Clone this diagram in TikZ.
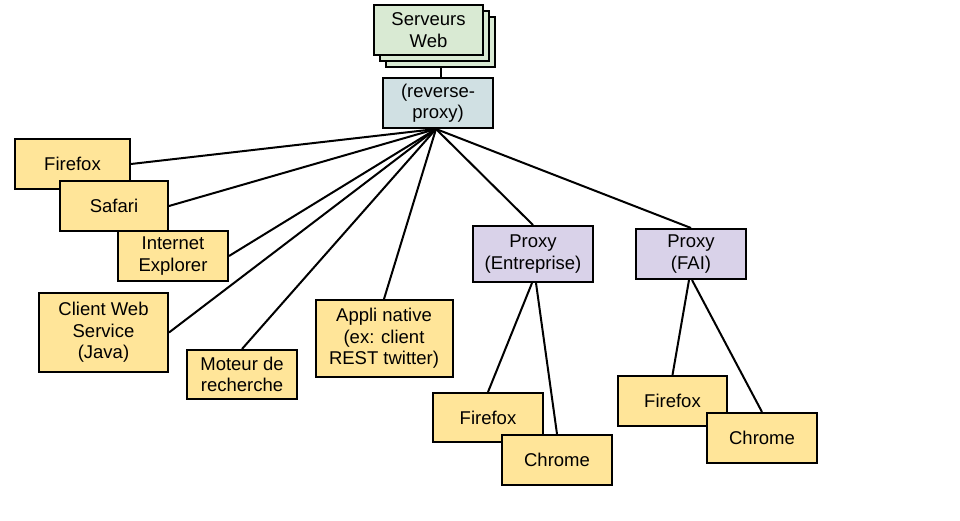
\documentclass[tikz,border=0pt]{standalone}
\usepackage{fontspec}
\setmainfont{Liberation Sans}
\usetikzlibrary{backgrounds}
\definecolor{cyel}{HTML}{FFE599}
\definecolor{cgrn}{HTML}{D9EAD3}
\definecolor{cblu}{HTML}{D0E0E3}
\definecolor{cpur}{HTML}{D9D2E9}
\begin{document}
\begin{tikzpicture}[x=1pt,y=-1pt,
  box/.style={draw=black,line width=2pt,inner sep=0pt,align=center,
    font=\fontsize{18.5}{21.5}\selectfont},
  ybox/.style={box,fill=cyel},
  conn/.style={draw=black,line width=2pt}]
\useasboundingbox (0,0) rectangle (960,521);
% serveurs web stack
\node[box,fill=cgrn,minimum width=109pt,minimum height=50pt] (sw3) at (440.5,42) {};
\node[box,fill=cgrn,minimum width=109pt,minimum height=50pt] (sw2) at (434.5,36) {};
\node[box,fill=cgrn,minimum width=109pt,minimum height=50pt] (sw) at (428.5,30) {Serveurs\\Web};
\node[box,fill=cblu,minimum width=110pt,minimum height=50pt] (rp) at (438,103) {(reverse-\\proxy)};
% clients
\node[ybox,minimum width=115pt,minimum height=50pt] (ff1) at (72.5,164) {Firefox};
\node[ybox,minimum width=108pt,minimum height=50pt] (saf) at (114,206) {Safari};
\node[ybox,minimum width=110pt,minimum height=50pt] (ie) at (173,256) {Internet\\Explorer};
\node[ybox,minimum width=129pt,minimum height=79pt] (cws) at (103.5,332.5) {Client Web\\Service\\(Java)};
\node[ybox,minimum width=110pt,minimum height=49pt] (mot) at (242,374.5) {Moteur de\\recherche};
\node[ybox,minimum width=137pt,minimum height=77pt] (app) at (384,338.5) {Appli native\\(ex: client\\REST twitter)};
\node[box,fill=cpur,minimum width=120pt,minimum height=56pt] (pe) at (533,254) {Proxy\\(Entreprise)};
\node[box,fill=cpur,minimum width=110pt,minimum height=50pt] (pf) at (691,254) {Proxy\\(FAI)};
\node[ybox,minimum width=110pt,minimum height=49pt] (ff2) at (488,417.5) {Firefox};
\node[ybox,minimum width=110pt,minimum height=50pt] (ch2) at (557,460) {Chrome};
\node[ybox,minimum width=109pt,minimum height=50pt] (ff3) at (672.5,401) {Firefox};
\node[ybox,minimum width=110pt,minimum height=50pt] (ch3) at (762,438) {Chrome};
\begin{scope}[on background layer]
\draw[conn] (sw3.south) -- (sw3.south |- rp.north);
\coordinate (hub) at ([xshift=-2pt]rp.south);
\draw[conn] (hub) -- (ff1.east);
\draw[conn] (hub) -- (saf.east);
\draw[conn] (hub) -- (ie.east);
\draw[conn] (hub) -- (cws.east);
\draw[conn] (hub) -- (mot.north);
\draw[conn] (hub) -- (app.north);
\draw[conn] (hub) -- (pe.north);
\draw[conn] (hub) -- (pf.north);
\draw[conn] ([xshift=-1pt]pe.south) -- (ff2.north);
\draw[conn] ([xshift=3pt]pe.south) -- (ch2.north);
\draw[conn] ([xshift=-2pt]pf.south) -- (ff3.north);
\draw[conn] ([xshift=1pt]pf.south) -- (ch3.north);
\end{scope}
\end{tikzpicture}
\end{document}
